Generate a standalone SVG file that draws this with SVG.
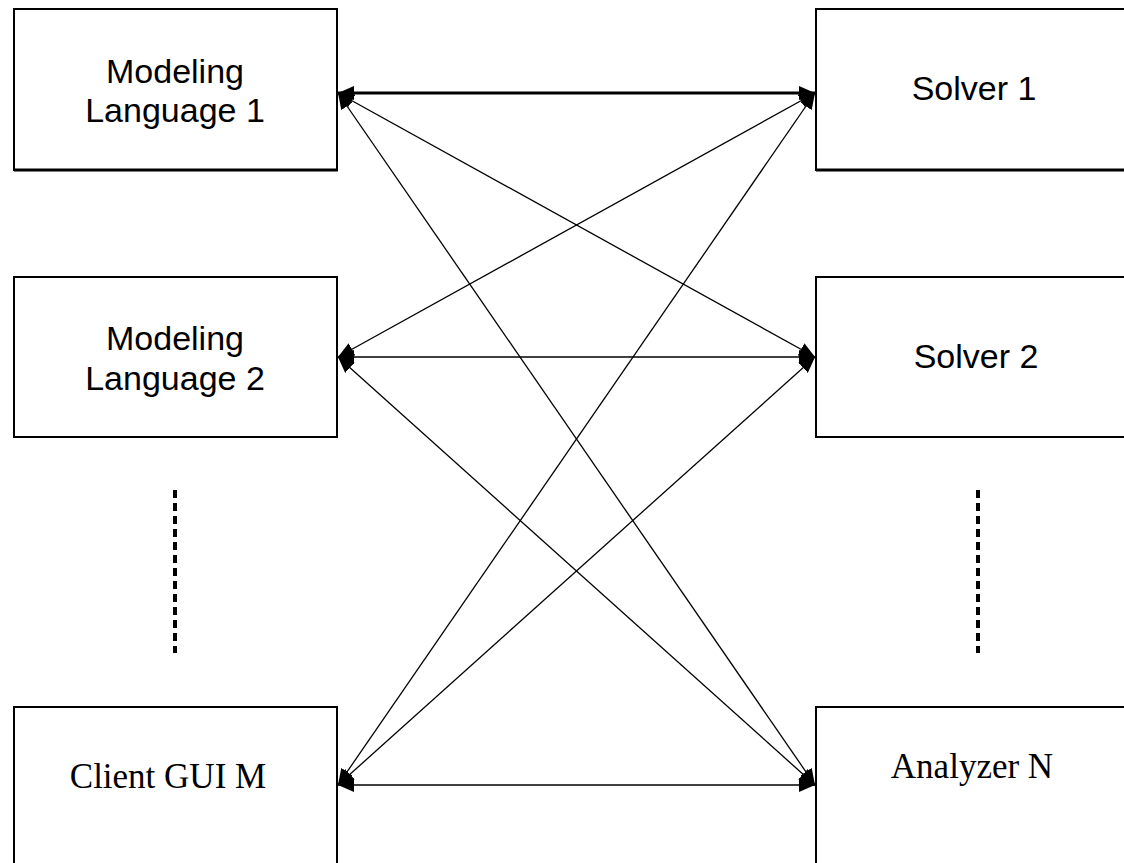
<svg xmlns="http://www.w3.org/2000/svg" width="1124" height="863" viewBox="0 0 1124 863">
  <style>
    .box { fill: #ffffff; stroke: #000000; stroke-width: 2; }
    .shadow { stroke: #000000; stroke-width: 3; fill: none; }
    .sans { font-family: "Liberation Sans", Arial, sans-serif; font-size: 34px; fill: #000000; text-anchor: middle; }
    .serif { font-family: "Liberation Serif", "Times New Roman", serif; font-size: 35px; fill: #000000; text-anchor: middle; }
    .link { stroke: #000000; stroke-width: 1.3; fill: none; marker-start: url(#head); marker-end: url(#head); }
    .bold { stroke-width: 3; }
    .dots { stroke: #000000; stroke-width: 4; stroke-dasharray: 8 5; fill: none; }
  </style>
  <defs>
    <marker id="head" viewBox="0 0 16 14" refX="16" refY="7" markerWidth="16" markerHeight="14" markerUnits="userSpaceOnUse" orient="auto-start-reverse">
      <path d="M0,0 L16,7 L0,14 Z" fill="#000000"/>
    </marker>
  </defs>
  <rect width="1124" height="863" fill="#ffffff"/>

  <g id="modeling-language-1">
    <rect class="box" x="14" y="9" width="323" height="161"/>
    <line class="shadow" x1="14" y1="170" x2="338" y2="170"/>
    <text class="sans" x="175" y="83">Modeling</text>
    <text class="sans" x="175" y="122">Language 1</text>
  </g>

  <g id="solver-1">
    <rect class="box" x="816" y="9" width="320" height="161"/>
    <line class="shadow" x1="816" y1="170" x2="1124" y2="170"/>
    <text class="sans" x="974" y="100">Solver 1</text>
  </g>

  <g id="modeling-language-2">
    <rect class="box" x="14" y="277" width="323" height="160"/>
    <text class="sans" x="175" y="350">Modeling</text>
    <text class="sans" x="175" y="390">Language 2</text>
  </g>

  <g id="solver-2">
    <rect class="box" x="816" y="277" width="320" height="160"/>
    <text class="sans" x="976" y="368">Solver 2</text>
  </g>

  <g id="client-gui-m">
    <rect class="box" x="14" y="707" width="323" height="170"/>
    <text class="serif" x="168" y="788">Client GUI M</text>
  </g>

  <g id="analyzer-n">
    <rect class="box" x="816" y="707" width="320" height="170"/>
    <text class="serif" x="972" y="778">Analyzer N</text>
  </g>

  <g id="ellipsis">
    <line class="dots" x1="175" y1="490" x2="175" y2="653"/>
    <line class="dots" x1="978" y1="490" x2="978" y2="653"/>
  </g>

  <g id="connectors">
    <line class="link bold" x1="338" y1="93" x2="815" y2="93"/>
    <line class="link" x1="338" y1="93" x2="815" y2="357"/>
    <line class="link" x1="338" y1="93" x2="815" y2="785"/>
    <line class="link" x1="338" y1="357" x2="815" y2="93"/>
    <line class="link" x1="338" y1="357" x2="815" y2="357"/>
    <line class="link" x1="338" y1="357" x2="815" y2="785"/>
    <line class="link" x1="338" y1="785" x2="815" y2="93"/>
    <line class="link" x1="338" y1="785" x2="815" y2="357"/>
    <line class="link" x1="338" y1="785" x2="815" y2="785"/>
  </g>
</svg>
